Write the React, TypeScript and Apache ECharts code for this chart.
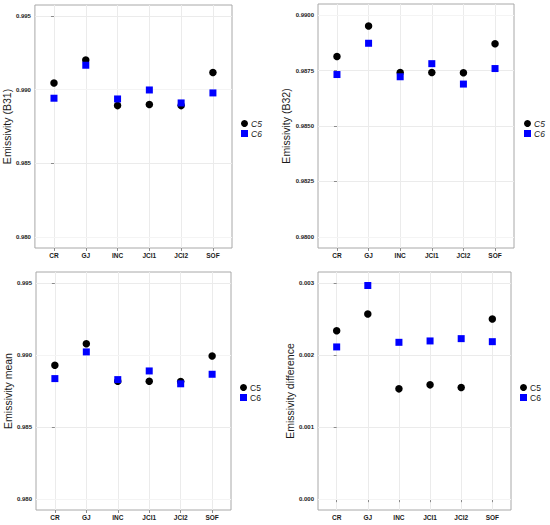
import React, { useEffect, useRef } from "react";
import * as echarts from "echarts";

const categories = ["CR", "GJ", "INC", "JCI1", "JCI2", "SOF"];
const seriesNames = ["C5", "C6"];

const b31C5 = [0.99045, 0.99202, 0.98892, 0.98899, 0.98892, 0.99117];
const b31C6 = [0.98942, 0.99166, 0.98937, 0.98998, 0.9891, 0.98978];
const b32C5 = [0.98813, 0.98951, 0.98741, 0.98741, 0.9874, 0.98871];
const b32C6 = [0.98732, 0.98873, 0.98722, 0.98781, 0.98689, 0.98759];
const meanC5 = [0.98929, 0.99078, 0.98818, 0.98818, 0.98816, 0.98993];
const meanC6 = [0.98836, 0.99021, 0.98829, 0.98889, 0.988, 0.98866];
const diffC5 = [0.002336, 0.002567, 0.00153, 0.001585, 0.001548, 0.002498];
const diffC6 = [0.002111, 0.002963, 0.002175, 0.002194, 0.002226, 0.002184];

const ticksB31 = [0.98, 0.985, 0.99, 0.995];
const ticksB32 = [0.98, 0.9825, 0.985, 0.9875, 0.99];
const ticksMean = [0.98, 0.985, 0.99, 0.995];
const ticksDiff = [0, 0.001, 0.002, 0.003];

const titles = ["Emissivity (B31)", "Emissivity (B32)", "Emissivity mean", "Emissivity difference"];

const FONT = "Liberation Sans, Arial, sans-serif";

export default function App() {
  const ref = useRef<HTMLDivElement>(null);

  useEffect(() => {
    if (!ref.current) return;
    const chart = echarts.init(ref.current, undefined, { renderer: "svg" });

    const panels = [
      { c5: b31C5, c6: b31C6, ticks: ticksB31, dec: 3, grid: { left: 34, top: 5, width: 198, height: 243 }, nameGap: 22, legend: { left: 241, top: 119 }, italic: true },
      { c5: b32C5, c6: b32C6, ticks: ticksB32, dec: 4, grid: { left: 318, top: 4, width: 196, height: 244 }, nameGap: 25, legend: { left: 524, top: 119 }, italic: true },
      { c5: meanC5, c6: meanC6, ticks: ticksMean, dec: 3, grid: { left: 36, top: 272, width: 195, height: 238 }, nameGap: 20, legend: { left: 240, top: 383 }, italic: false },
      { c5: diffC5, c6: diffC6, ticks: ticksDiff, dec: 3, grid: { left: 318, top: 272, width: 193, height: 238 }, nameGap: 22, legend: { left: 520, top: 383 }, italic: false },
    ];

    const grids: any[] = [];
    const xAxes: any[] = [];
    const yAxes: any[] = [];
    const series: any[] = [];
    const legends: any[] = [];
    const catIdx = categories.map((_, i) => i);

    panels.forEach((p, k) => {
      const lo = p.ticks[0];
      const hi = p.ticks[p.ticks.length - 1];
      const pad = (hi - lo) * 0.05;
      const minor: number[] = [];
      for (let i = 0; i < p.ticks.length - 1; i++) minor.push((p.ticks[i] + p.ticks[i + 1]) / 2);

      grids.push({
        ...p.grid,
        show: true,
        borderColor: "#a8a8a8",
        borderWidth: 1,
        backgroundColor: "#ffffff",
        containLabel: false,
        z: 0,
      });
      xAxes.push({
        type: "value",
        gridIndex: k,
        z: 0,
        min: -0.6,
        max: categories.length - 1 + 0.6,
        axisLine: { show: false },
        axisTick: { show: true, length: 3, customValues: catIdx, lineStyle: { color: "#8c8c8c" } },
        axisLabel: {
          customValues: catIdx,
          formatter: (v: number) => categories[Math.round(v)] ?? "",
          fontFamily: FONT,
          fontWeight: "bold",
          fontSize: 6.5,
          color: "#1a1a1a",
          margin: 4,
        },
        splitLine: { show: true, lineStyle: { color: "#ebebeb", width: 1 } },
      });
      yAxes.push({
        type: "value",
        gridIndex: k,
        z: 0,
        min: lo - pad,
        max: hi + pad,
        name: titles[k],
        nameLocation: "middle",
        nameGap: p.nameGap,
        nameTextStyle: { fontFamily: FONT, fontSize: 10.5, color: "#1a1a1a" },
        axisLine: { show: false },
        axisTick: { show: true, length: 3, customValues: p.ticks, lineStyle: { color: "#8c8c8c" } },
        axisLabel: {
          customValues: p.ticks,
          formatter: (v: number) => v.toFixed(p.dec),
          fontFamily: FONT,
          fontWeight: "bold",
          fontSize: 6,
          color: "#1a1a1a",
          margin: 4,
        },
        splitLine: { show: true, lineStyle: { color: "#ebebeb", width: 1 } },
      });
      series.push({
        type: "line",
        name: "minor" + k,
        xAxisIndex: k,
        yAxisIndex: k,
        data: [],
        z: 1,
        silent: true,
        markLine: {
          silent: true,
          z: 1,
          symbol: "none",
          label: { show: false },
          emphasis: { disabled: true },
          lineStyle: { color: "#f4f4f4", width: 1, type: "solid" },
          data: minor.map((m) => ({ yAxis: m })),
        },
      });
      series.push({
        type: "scatter",
        name: seriesNames[0],
        xAxisIndex: k,
        yAxisIndex: k,
        symbol: "circle",
        symbolSize: 7.5,
        itemStyle: { color: "#000000", opacity: 1 },
        z: 10,
        data: p.c5.map((v, i) => [i, v]),
      });
      series.push({
        type: "scatter",
        name: seriesNames[1],
        xAxisIndex: k,
        yAxisIndex: k,
        symbol: "rect",
        symbolSize: 7,
        itemStyle: { color: "#0000ff", opacity: 1 },
        z: 11,
        data: p.c6.map((v, i) => [i, v]),
      });
      legends.push({
        left: p.legend.left,
        top: p.legend.top,
        orient: "vertical",
        padding: 0,
        itemGap: 1,
        itemWidth: 7,
        itemHeight: 7,
        selectedMode: false,
        itemStyle: { opacity: 1 },
        data: [
          { name: seriesNames[0], icon: "circle" },
          { name: seriesNames[1], icon: "rect" },
        ],
        textStyle: {
          fontFamily: FONT,
          fontSize: 8.5,
          color: "#1a1a1a",
          fontStyle: p.italic ? "italic" : "normal",
          padding: [0, 0, 0, -2],
        },
      });
    });

    chart.setOption({
      animation: false,
      backgroundColor: "#ffffff",
      grid: grids,
      xAxis: xAxes,
      yAxis: yAxes,
      legend: legends,
      series,
    });

    return () => chart.dispose();
  }, []);

  return (
    <div
      ref={ref}
      style={{ position: "fixed", left: 0, top: 0, width: 550, height: 525, background: "#fff" }}
    />
  );
}
